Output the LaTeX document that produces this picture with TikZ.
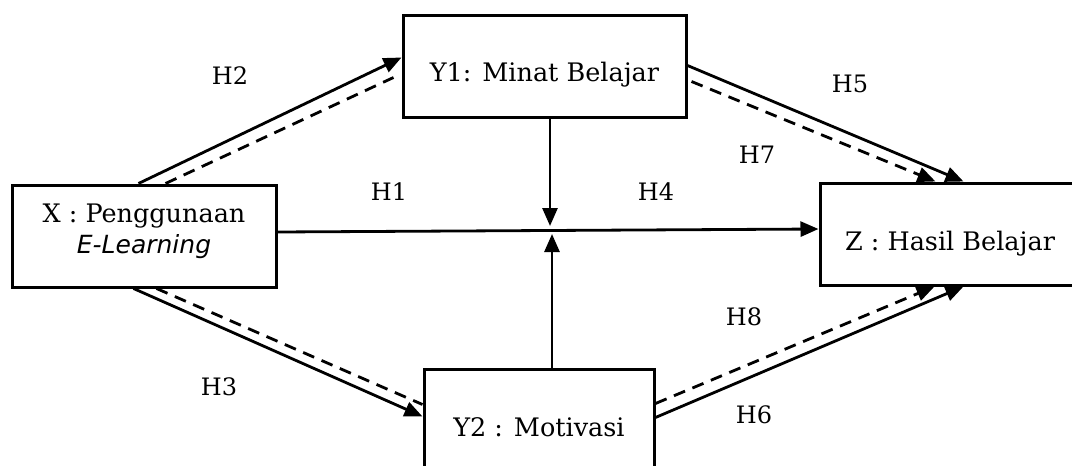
\documentclass[tikz,border=0pt]{standalone}
\usepackage{fontspec}
\setmainfont{DejaVu Serif}
\newfontfamily\elfont{DejaVu Sans}
\usetikzlibrary{arrows.meta}
\newcommand\bkfont{\fontsize{25.5}{30}\selectfont}
\newcommand\lblfont{\fontsize{24}{28}\selectfont}
\begin{document}
\begin{tikzpicture}[x=1pt,y=-1pt,
  box/.style={draw, line width=3pt, inner sep=0pt, font=\bkfont},
  conn/.style={line width=2.8pt},
  arr/.style={conn, -{Triangle[length=18pt,width=15pt]}},
  dsh/.style={conn, dash pattern=on 12pt off 8pt},
  lbl/.style={font=\lblfont, inner sep=0pt}]
\useasboundingbox (0,0) rectangle (1072,466);
\clip (0,0) rectangle (1072,466);
% boxes
\node[box, minimum width=264pt, minimum height=102pt] (X) at (144,236)
  {\raisebox{-17pt}[0pt][0pt]{\begin{tabular}[b]{@{}c@{}}X : Penggunaan\\[1pt]{\elfont\itshape\fontsize{25}{30}\selectfont E-Learning}\end{tabular}}};
\node[box, minimum width=283pt, minimum height=102pt] (Y1) at (544.5,66) {\raisebox{-15pt}[0pt][0pt]{Y1: Minat Belajar}};
\node[box, minimum width=260pt, minimum height=102pt] (Z) at (950,234) {\raisebox{-16pt}[0pt][0pt]{Z : Hasil Belajar}};
\node[box, minimum width=230pt, minimum height=111pt] (Y2) at (539,424.5) {\raisebox{-12pt}[0pt][0pt]{Y2 : Motivasi}};
% free ends
\coordinate (m1) at (550,226);
\coordinate (m2) at (552,234);
% H2
\draw[arr] ([xshift=128pt]X.north west) -- ([yshift=-44pt]Y1.north west);
\draw[dsh] ([xshift=155pt]X.north west) -- ([xshift=-8pt,yshift=-64pt]Y1.north west);
% H5 / H7
\draw[arr] ([yshift=-52pt]Y1.north east) -- ([xshift=145pt]Z.north west);
\draw[arr, dash pattern=on 12pt off 8pt] ([xshift=4pt,yshift=-68pt]Y1.north east) -- ([xshift=117pt]Z.north west);
% H3
\draw[arr] ([xshift=123pt]X.south west) -- ([yshift=-49pt]Y2.north west);
\draw[dsh] ([xshift=146pt]X.south west) -- ([yshift=-37pt]Y2.north west);
% H6 / H8
\draw[arr] ([yshift=-50pt]Y2.north east) -- ([xshift=145pt]Z.south west);
\draw[arr, dash pattern=on 12pt off 8pt] ([yshift=-36pt]Y2.north east) -- ([xshift=116pt]Z.south west);
% H1 / H4
\draw[arr] ([yshift=4pt]X.east) -- ([yshift=5pt]Z.west);
% moderation
\draw[arr] ([xshift=5.5pt]Y1.south) -- (m1);
\draw[arr] ([xshift=13pt]Y2.north) -- (m2);
% labels
\node[lbl] (lH2) at (230,76) {H2};
\node[lbl] (lH1) at (389,192) {H1};
\node[lbl] (lH4) at (656,192) {H4};
\node[lbl] (lH5) at (850,84) {H5};
\node[lbl] (lH7) at (757,155) {H7};
\node[lbl] (lH8) at (744,317) {H8};
\node[lbl] (lH3) at (219,387) {H3};
\node[lbl] (lH6) at (754,415) {H6};
\end{tikzpicture}
\end{document}
